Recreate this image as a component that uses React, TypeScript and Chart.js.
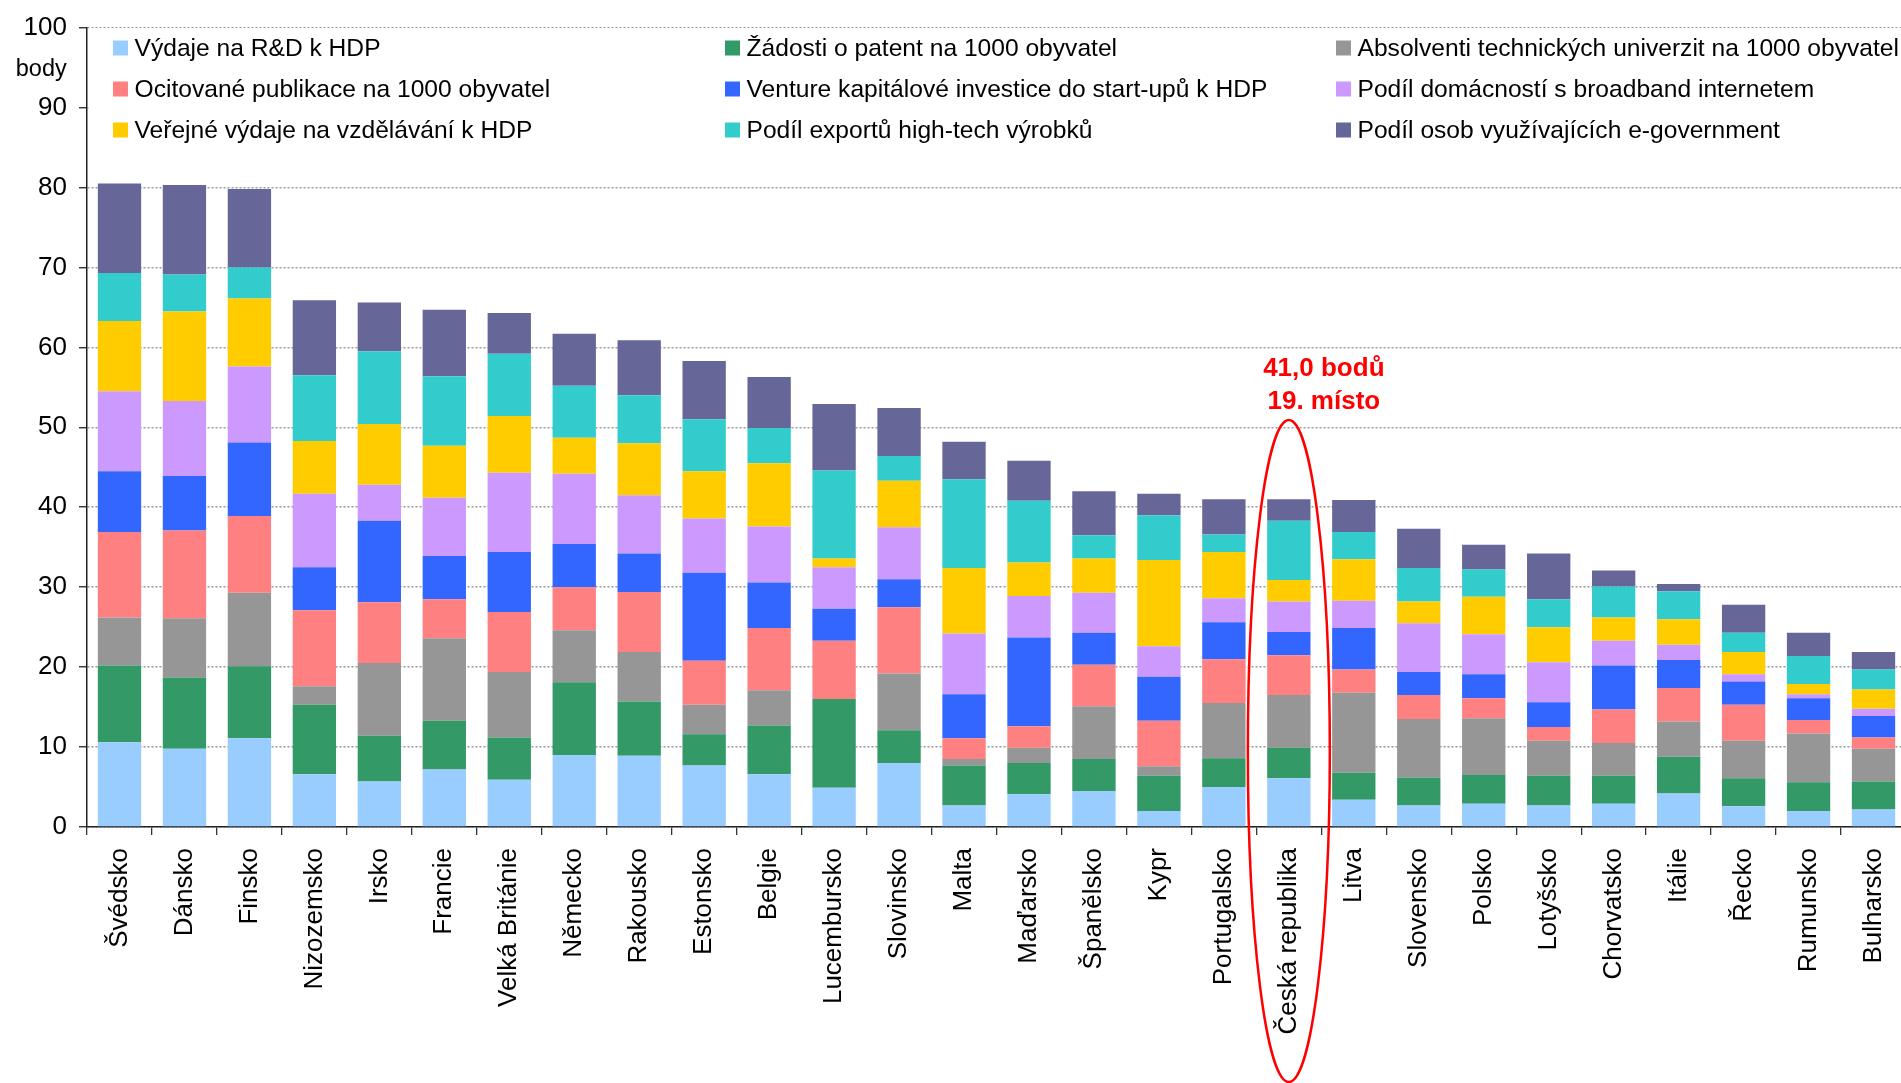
import React, { useEffect, useRef } from "react";
import { Chart, registerables } from "chart.js";

Chart.register(...registerables);

const countries = [
  "Švédsko", "Dánsko", "Finsko", "Nizozemsko", "Irsko", "Francie", "Velká Británie",
  "Německo", "Rakousko", "Estonsko", "Belgie", "Lucembursko", "Slovinsko", "Malta",
  "Maďarsko", "Španělsko", "Kypr", "Portugalsko", "Česká republika", "Litva",
  "Slovensko", "Polsko", "Lotyšsko", "Chorvatsko", "Itálie", "Řecko", "Rumunsko", "Bulharsko",
];

const rdSpending = [10.6, 9.8, 11.1, 6.6, 5.7, 7.2, 5.9, 9.0, 8.9, 7.7, 6.6, 4.9, 8.0, 2.7, 4.1, 4.5, 2.0, 5.0, 6.1, 3.4, 2.7, 2.9, 2.7, 2.9, 4.2, 2.6, 2.0, 2.2];
const patentApps = [9.6, 8.9, 9.0, 8.7, 5.7, 6.1, 5.3, 9.1, 6.8, 3.9, 6.1, 11.1, 4.1, 5.0, 3.9, 4.0, 4.4, 3.6, 3.8, 3.4, 3.5, 3.6, 3.7, 3.5, 4.6, 3.5, 3.6, 3.5];
const techGraduates = [6.0, 7.4, 9.2, 2.3, 9.1, 10.3, 8.2, 6.5, 6.2, 3.7, 4.4, 0.0, 7.1, 0.8, 1.9, 6.6, 1.2, 6.9, 6.6, 10.0, 7.3, 7.1, 4.4, 4.1, 4.4, 4.7, 6.1, 4.1];
const citedPublications = [10.7, 11.0, 9.6, 9.5, 7.6, 4.9, 7.5, 5.4, 7.5, 5.5, 7.8, 7.3, 8.3, 2.6, 2.7, 5.2, 5.7, 5.5, 5.0, 2.9, 3.0, 2.5, 1.7, 4.2, 4.2, 4.5, 1.7, 1.4];
const ventureCapital = [7.6, 6.8, 9.2, 5.4, 10.2, 5.4, 7.5, 5.4, 4.8, 11.0, 5.7, 4.0, 3.5, 5.5, 11.1, 4.0, 5.5, 4.6, 2.9, 5.2, 2.9, 3.0, 3.1, 5.5, 3.5, 2.9, 2.7, 2.7];
const broadband = [10.0, 9.4, 9.5, 9.2, 4.5, 7.3, 9.9, 8.8, 7.3, 6.8, 7.0, 5.2, 6.5, 7.6, 5.2, 5.0, 3.8, 3.0, 3.8, 3.4, 6.1, 5.0, 5.0, 3.1, 1.9, 0.9, 0.5, 0.9];
const educationSpending = [8.8, 11.2, 8.5, 6.6, 7.6, 6.5, 7.1, 4.5, 6.5, 5.9, 7.9, 1.1, 5.8, 8.2, 4.2, 4.3, 10.8, 5.8, 2.7, 5.2, 2.7, 4.7, 4.4, 2.9, 3.2, 2.8, 1.3, 2.4];
const hightechExports = [6.0, 4.6, 3.9, 8.2, 9.1, 8.7, 7.8, 6.5, 6.0, 6.5, 4.4, 11.0, 3.1, 11.1, 7.7, 2.9, 5.6, 2.2, 7.4, 3.4, 4.2, 3.4, 3.5, 3.9, 3.5, 2.4, 3.5, 2.5];
const eGovernment = [11.2, 11.2, 9.8, 9.4, 6.1, 8.3, 5.1, 6.5, 6.9, 7.3, 6.4, 8.3, 6.0, 4.7, 5.0, 5.5, 2.7, 4.4, 2.7, 4.0, 4.9, 3.1, 5.7, 2.0, 0.9, 3.5, 2.9, 2.2];

const seriesNames = [
  "Výdaje na R&D k HDP",
  "Žádosti o patent na 1000 obyvatel",
  "Absolventi technických univerzit na 1000 obyvatel",
  "Ocitované publikace na 1000 obyvatel",
  "Venture kapitálové investice do start-upů k HDP",
  "Podíl domácností s broadband internetem",
  "Veřejné výdaje na vzdělávání k HDP",
  "Podíl exportů high-tech výrobků",
  "Podíl osob využívajících e-government",
];
const seriesValues = [
  rdSpending, patentApps, techGraduates, citedPublications, ventureCapital,
  broadband, educationSpending, hightechExports, eGovernment,
];
const seriesColors = [
  "#99CCFF", "#339966", "#969696", "#FF8080", "#3366FF",
  "#CC99FF", "#FFCC00", "#33CCCC", "#666699",
];

const yTicks = [0, 10, 20, 30, 40, 50, 60, 70, 80, 90, 100];
const unitLabel = "body";
const highlightIndex = 18;
const highlightLines = ["41,0 bodů", "19. místo"];

const FONT = '"Liberation Sans", Arial, Helvetica, sans-serif';

const overlayPlugin = {
  id: "overlay",
  beforeDatasetsDraw(chart: any) {
    const { ctx, chartArea } = chart;
    ctx.save();
    ctx.fillStyle = "#ffffff";
    ctx.fillRect(chartArea.left + 1.5, 28, chartArea.right - chartArea.left, 122);
    ctx.restore();
  },
  afterDraw(chart: any) {
    const { ctx, scales } = chart;
    const x = scales.x;
    const y = scales.y;
    ctx.save();

    // legend
    const colX = [113, 725, 1336];
    const rowY = [48, 89, 130];
    ctx.font = `24.6px ${FONT}`;
    ctx.textBaseline = "middle";
    ctx.textAlign = "left";
    seriesNames.forEach((name, i) => {
      const cx = colX[i % 3];
      const cy = rowY[Math.floor(i / 3)];
      ctx.fillStyle = seriesColors[i];
      ctx.fillRect(cx, cy - 7.5, 15, 15);
      ctx.fillStyle = "#000";
      ctx.fillText(name, cx + 21.5, cy + 1);
    });

    // unit label
    ctx.font = `23.5px ${FONT}`;
    ctx.textAlign = "right";
    ctx.fillStyle = "#000";
    ctx.fillText(unitLabel, 66.7, y.getPixelForValue(94.7));

    // highlight annotation
    const cx = x.getPixelForValue(highlightIndex);
    ctx.fillStyle = "#ff0000";
    ctx.font = `bold 26px ${FONT}`;
    ctx.textAlign = "center";
    ctx.fillText(highlightLines[0], cx + 35, y.getPixelForValue(57.3));
    ctx.fillText(highlightLines[1], cx + 35, y.getPixelForValue(53.2));

    const top = y.getPixelForValue(50.9);
    const bottom = chart.height - 1;
    ctx.beginPath();
    ctx.ellipse(cx, (top + bottom) / 2, 41, (bottom - top) / 2, 0, 0, Math.PI * 2);
    ctx.strokeStyle = "#ff0000";
    ctx.lineWidth = 2.5;
    ctx.stroke();
    ctx.restore();
  },
};

export default function App() {
  const canvasRef = useRef<HTMLCanvasElement | null>(null);

  useEffect(() => {
    if (!canvasRef.current) return;
    const chart = new Chart(canvasRef.current, {
      type: "bar",
      data: {
        labels: countries,
        datasets: seriesNames.map((name, i) => ({
          label: name,
          data: seriesValues[i],
          backgroundColor: seriesColors[i],
          borderWidth: 0,
          barPercentage: 0.667,
          categoryPercentage: 1.0,
        })),
      },
      options: {
        responsive: false,
        animation: false,
        layout: { padding: { top: 24, left: 0, right: 0, bottom: 0 } },
        plugins: {
          legend: { display: false },
          tooltip: { enabled: false },
        },
        scales: {
          x: {
            stacked: true,
            grid: {
              display: true,
              drawOnChartArea: false,
              drawTicks: true,
              tickLength: 8,
              color: "#333",
              lineWidth: 1.3,
              offset: true,
            },
            border: { display: true, color: "#222", width: 1.5 },
            ticks: {
              autoSkip: false,
              maxRotation: 90,
              minRotation: 90,
              padding: 13,
              color: "#000",
              font: { family: FONT, size: 26 },
            },
            afterFit: (s: any) => {
              s.height = 256;
              s.paddingLeft = 0;
              s.paddingRight = 0;
            },
          },
          y: {
            stacked: true,
            min: 0,
            max: 100,
            afterBuildTicks: (s: any) => {
              s.ticks = yTicks.map((v) => ({ value: v }));
            },
            ticks: {
              stepSize: 10,
              padding: 12,
              color: "#000",
              font: { family: FONT, size: 26 },
            },
            grid: {
              color: "#9a9a9a",
              lineWidth: 1.5,
              tickLength: 8,
              tickColor: "#222",
              tickWidth: 1.3,
            },
            border: { display: true, color: "#222", width: 1.5, dash: [2, 2] },
            afterFit: (s: any) => {
              s.width = 87;
            },
          },
        },
      },
      plugins: [overlayPlugin],
    } as any);
    return () => chart.destroy();
  }, []);

  return (
    <div
      style={{
        position: "fixed",
        left: 0,
        top: 0,
        width: 1901,
        height: 1083,
        overflow: "hidden",
        background: "#fff",
      }}
    >
      <canvas
        ref={canvasRef}
        width={1906}
        height={1083}
        style={{ display: "block", width: 1906, height: 1083 }}
      />
    </div>
  );
}
